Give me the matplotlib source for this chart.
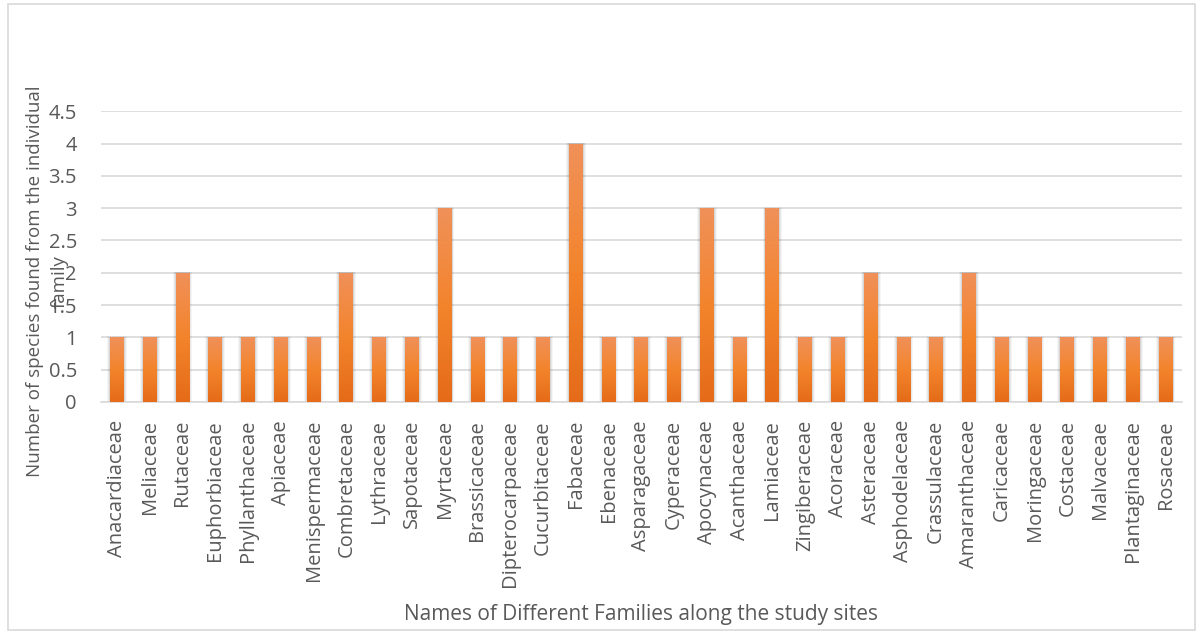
import numpy as np
import matplotlib.pyplot as plt
from matplotlib.colors import LinearSegmentedColormap
from matplotlib.patches import Rectangle

plt.rcParams['font.family'] = ['Open Sans', 'DejaVu Sans']

families = ["Anacardiaceae", "Meliaceae", "Rutaceae", "Euphorbiaceae", "Phyllanthaceae",
            "Apiaceae", "Menispermaceae", "Combretaceae", "Lythraceae", "Sapotaceae",
            "Myrtaceae", "Brassicaceae", "Dipterocarpaceae", "Cucurbitaceae", "Fabaceae",
            "Ebenaceae", "Asparagaceae", "Cyperaceae", "Apocynaceae", "Acanthaceae",
            "Lamiaceae", "Zingiberaceae", "Acoraceae", "Asteraceae", "Asphodelaceae",
            "Crassulaceae", "Amaranthaceae", "Caricaceae", "Moringaceae", "Costaceae",
            "Malvaceae", "Plantaginaceae", "Rosaceae"]
species_count = [1, 1, 2, 1, 1, 1, 1, 2, 1, 1, 3, 1, 1, 1, 4, 1, 1, 1, 3, 1,
                 3, 1, 1, 2, 1, 1, 2, 1, 1, 1, 1, 1, 1]
y_ticks = [0, 0.5, 1, 1.5, 2, 2.5, 3, 3.5, 4, 4.5]

text_col = "#595959"
fig = plt.figure(figsize=(12.01, 6.32), dpi=100)
ax = fig.add_axes([0.0837, 0.364, 0.9005, 0.46])

x = np.arange(len(families))
width = 0.42
bars = ax.bar(x, species_count, width=width, color="none", zorder=3)

# orange vertical gradient plus a soft drop shadow for each bar
grad = LinearSegmentedColormap.from_list("org", ["#E56B18", "#F3842C", "#F0915A"])
g = np.linspace(0, 1, 256).reshape(-1, 1)
for b in bars:
    x0, h = b.get_x(), b.get_height()
    for k, a in zip([0.09, 0.06, 0.03], [0.05, 0.07, 0.10]):
        ax.add_patch(Rectangle((x0 - k, 0), width + 2 * k, h + k * 0.15,
                               facecolor="#404040", alpha=a, lw=0, zorder=2))
    im = ax.imshow(g, cmap=grad, origin="lower", aspect="auto",
                   extent=[x0, x0 + width, 0, h], zorder=3)
    im.set_clip_path(b)

ax.set_xlim(-0.5, len(families) - 0.5)
ax.set_ylim(0, 4.5)
ax.set_yticks(y_ticks)
ax.set_yticklabels([f"{v:g}" for v in y_ticks])
ax.set_xticks(x)
ax.set_xticklabels(families, rotation=90)
ax.yaxis.grid(True, color="#d9d9d9", lw=1.2, zorder=0)
ax.set_axisbelow(True)
for s in ["top", "right", "left"]:
    ax.spines[s].set_visible(False)
ax.spines["bottom"].set_color("#d9d9d9")
ax.spines["bottom"].set_linewidth(1.2)
ax.tick_params(length=0, labelsize=14.5, colors=text_col)
ax.tick_params(axis="x", pad=13)
ax.tick_params(axis="y", pad=17)

fig.text(0.0395, 0.555, "Number of species found from the individual\nfamily",
         rotation=90, ha="center", va="center", multialignment="center",
         fontsize=13.5, color=text_col, linespacing=1.45)
fig.text(0.534, 0.028, "Names of Different Families along the study sites",
         ha="center", va="center", fontsize=15, color=text_col)

fig.add_artist(Rectangle((0.007, 0.003), 0.988, 0.99, transform=fig.transFigure,
                         fill=False, edgecolor="#d9d9d9", lw=1.2))

fig.savefig("out.png", dpi=100)
